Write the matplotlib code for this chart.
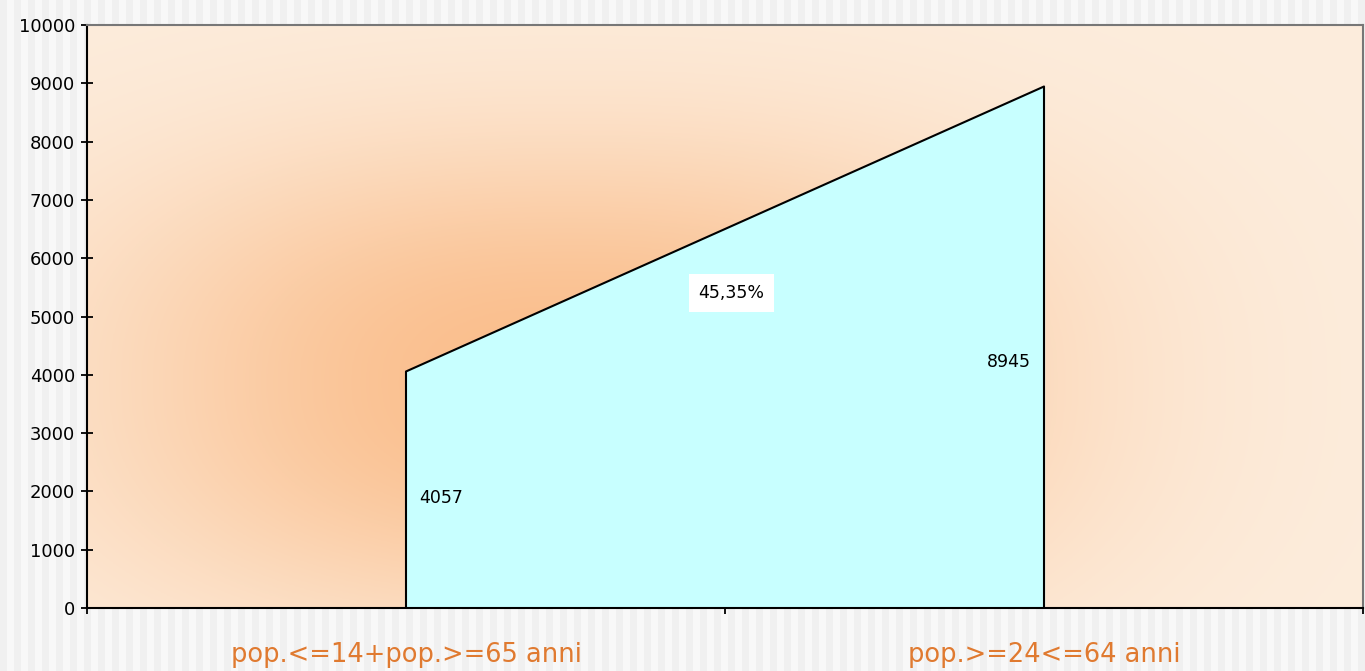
import numpy as np
import matplotlib
matplotlib.use("Agg")
import matplotlib.pyplot as plt

categories = ["pop.<=14+pop.>=65 anni", "pop.>=24<=64 anni"]
values = [4057, 8945]
value_labels = ["4057", "8945"]
pct_label = "45,35%"
yticks = list(range(0, 10001, 1000))

W, H = 1365, 671
fig = plt.figure(figsize=(W / 100, H / 100), dpi=100)

# striped figure background
bg = fig.add_axes([0, 0, 1, 1], zorder=-10)
xs = np.arange(W)
stripe = np.where((xs // 7) % 2 == 0, 0.945, 0.975)
img = np.tile(stripe, (10, 1))
rgb = np.stack([img, img, img], axis=-1)
bg.imshow(rgb, aspect="auto", extent=[0, 1, 0, 1], interpolation="nearest")
bg.set_axis_off()

ax = fig.add_axes([87 / W, (H - 608) / H, 1276 / W, 583 / H])

# radial gradient plot area background
gx, gy = np.meshgrid(np.linspace(87, 1363, 400), np.linspace(25, 608, 200))
cx, cy = 570, 250
r = (np.abs((gx - cx) / 470) ** 2.4 + np.abs((gy - cy) / 240) ** 2.4)
d = np.exp(-r)
edge = np.array([253, 237, 221]) / 255
center = np.array([250, 190, 140]) / 255
grad = edge[None, None, :] * (1 - d[..., None]) + center[None, None, :] * d[..., None]
ax.imshow(grad, extent=[0, 2, 10000, 0], aspect="auto", zorder=0, origin="upper")
ax.set_xlim(0, 2)
ax.set_ylim(0, 10000)

xpos = [0.5 + i for i in range(len(values))]
ax.fill_between(xpos, values, 0, color="#c8ffff", zorder=2)
ax.plot([xpos[0]] + xpos + [xpos[-1]], [0] + values + [0], color="black", lw=1.5, zorder=3)

ax.set_yticks(yticks)
ax.set_yticklabels([str(t) for t in yticks], fontsize=13, family="DejaVu Sans")
ax.set_xticks([0, 1, 2])
ax.set_xticklabels([])
ax.tick_params(axis="both", direction="inout", length=9, width=1.3, color="black")
ax.tick_params(axis="y", pad=4)

for s in ["left", "bottom"]:
    ax.spines[s].set_color("black")
    ax.spines[s].set_linewidth(1.5)
for s in ["top", "right"]:
    ax.spines[s].set_color("#777777")
    ax.spines[s].set_linewidth(1.5)

# data labels
ax.text(xpos[0] + 0.02, values[0] * 0.465, value_labels[0], fontsize=12.5,
        ha="left", va="center", zorder=4)
ax.text(xpos[1] - 0.02, values[1] * 0.472, value_labels[1], fontsize=12.5,
        ha="right", va="center", zorder=4)
ax.text(1.01, 5400, pct_label, fontsize=12.5, ha="center", va="center", zorder=4,
        bbox=dict(facecolor="white", edgecolor="none", pad=7))

# category labels
for x, c in zip(xpos, categories):
    ax.text(x, -800, c, fontsize=18.5, color="#e07a30", ha="center", va="center",
            family="DejaVu Sans", clip_on=False)

fig.savefig("out.png", dpi=100)
